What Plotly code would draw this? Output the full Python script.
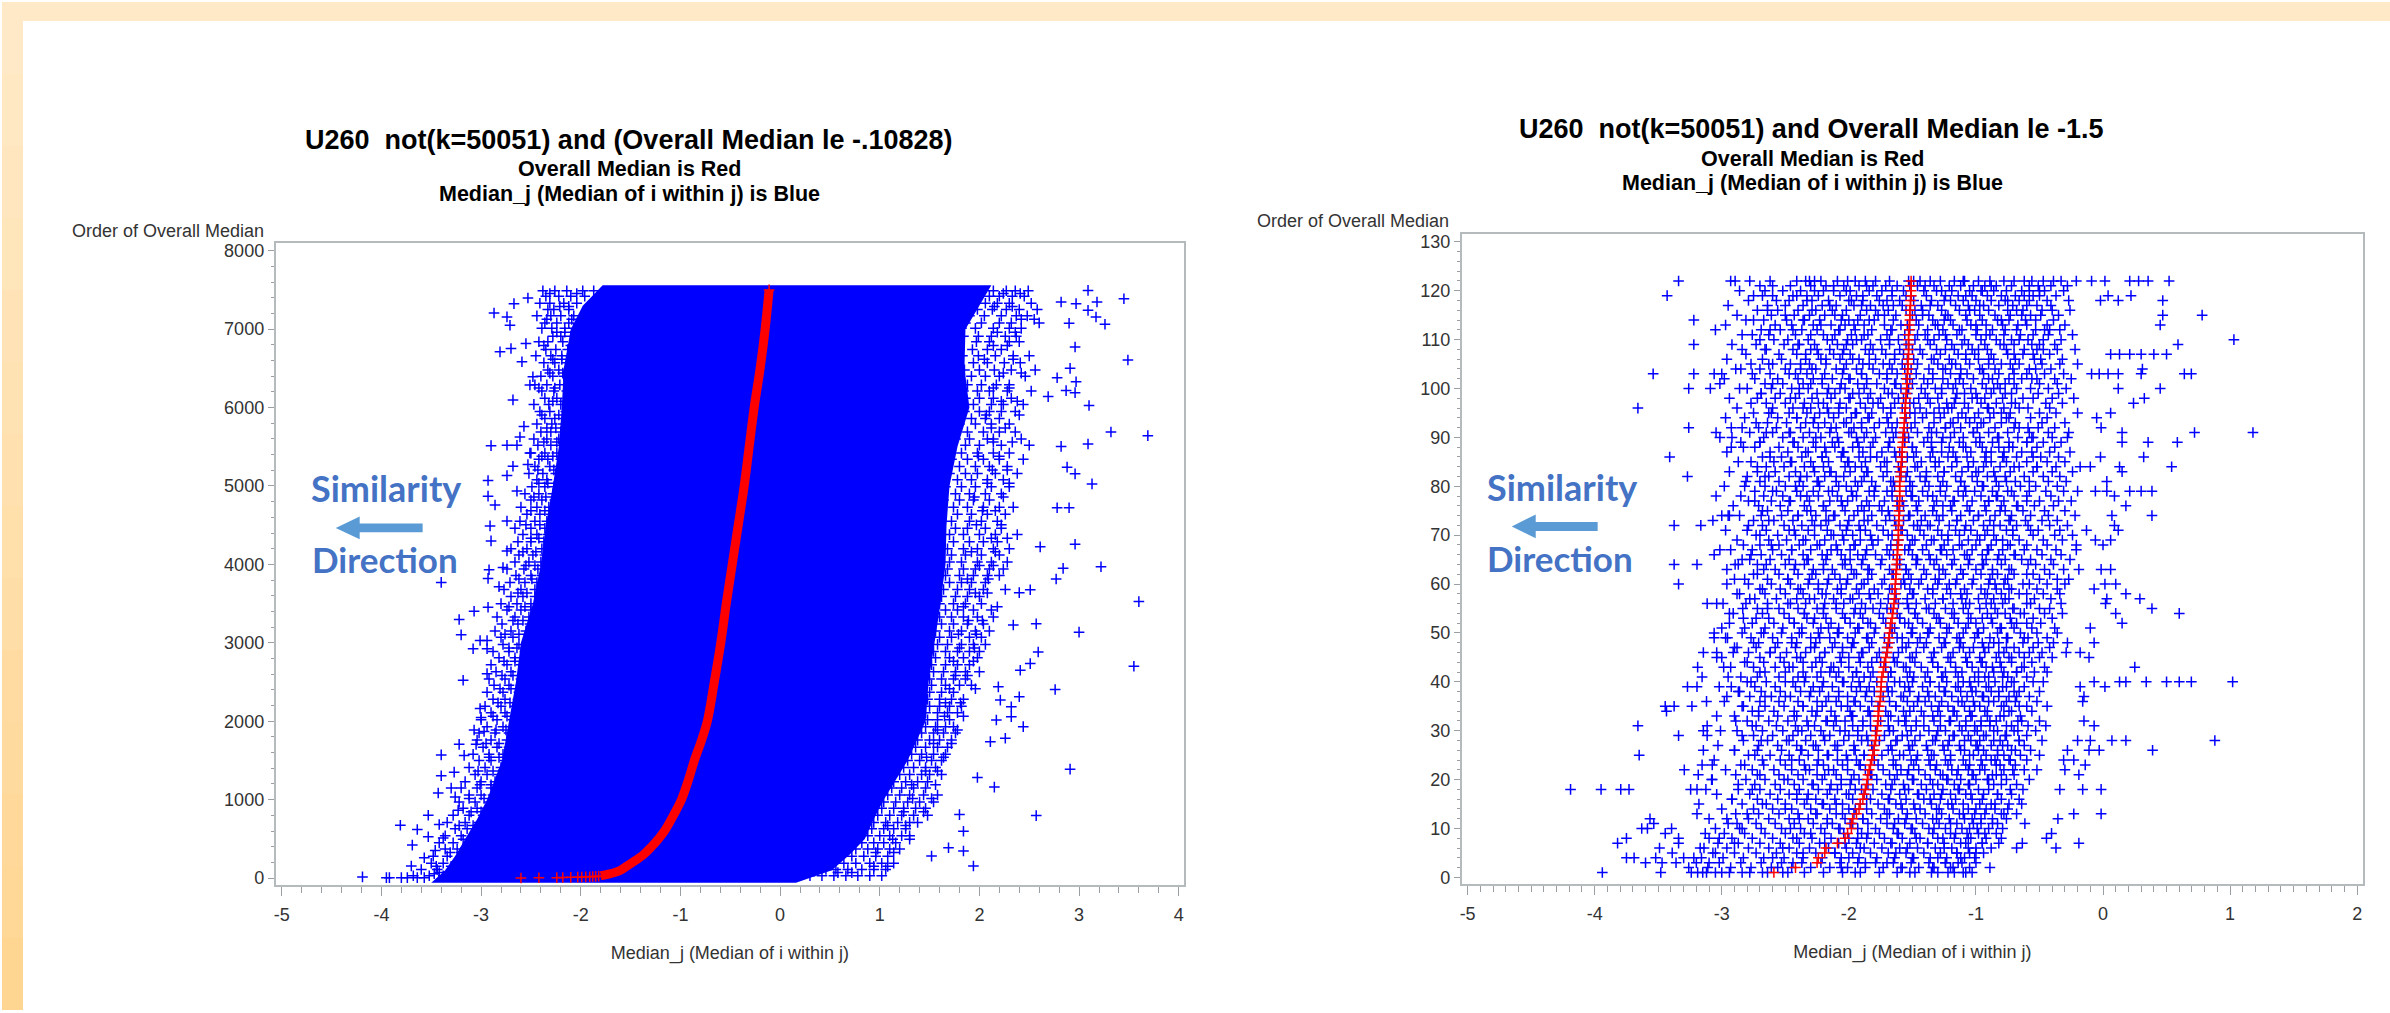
import plotly.graph_objects as go

W, H = 2390, 1013
BLUE, RED = "#0000FF", "#FF0000"

# ---------- LEFT CHART DATA ----------
solid_y = [7560, 7300, 7000, 6500, 6000, 5500, 5000, 4500, 4000, 3500, 3000, 2500, 2000, 1500, 1000, 750, 500, 300, 100, -60]
solid_left = [-1.78, -1.98, -2.1, -2.17, -2.19, -2.22, -2.28, -2.35, -2.4, -2.48, -2.6, -2.65, -2.72, -2.79, -2.94, -3.04, -3.16, -3.25, -3.36, -3.5]
solid_right = [2.12, 2.0, 1.86, 1.85, 1.9, 1.78, 1.7, 1.67, 1.66, 1.61, 1.55, 1.49, 1.46, 1.28, 1.04, 0.94, 0.85, 0.7, 0.52, 0.16]

red_line_y = [30, 50, 100, 150, 200, 300, 400, 500, 600, 800, 1000, 1250, 1500, 1750, 2000, 2500, 3000, 3500, 4000, 4500, 5000, 5500, 6000, 6500, 7000, 7500]
red_line_x = [-1.8, -1.72, -1.6, -1.54, -1.48, -1.37, -1.29, -1.22, -1.16, -1.07, -0.99, -0.92, -0.86, -0.79, -0.73, -0.66, -0.595, -0.54, -0.48, -0.42, -0.36, -0.31, -0.26, -0.2, -0.15, -0.11]
red_low_x = [-2.6, -2.42, -2.24, -2.18, -2.1, -2.03, -1.99, -1.95, -1.91, -1.88, -1.85, -1.82]
red_low_y = [2, 4, 6, 8, 10, 12, 14, 16, 18, 20, 22, 25]

fringe_y = [7490, 7420, 7330, 7250, 7170, 7080, 7010, 6910, 6840, 6740, 6660, 6570, 6480, 6400, 6290, 6210, 6120, 6040, 5950, 5860, 5790, 5690, 5600, 5520, 5420, 5340, 5250, 5160, 5080, 4990, 4900, 4820, 4730, 4640, 4550, 4460, 4380, 4290, 4200, 4120, 4030, 3940, 3860, 3770, 3680, 3590, 3500, 3420, 3330, 3240, 3150, 3070, 2980, 2890, 2810, 2720, 2630, 2540, 2460, 2370, 2280, 2190, 2110, 2020, 1930, 1850, 1760, 1670, 1580, 1500, 1410, 1320, 1230, 1150, 1060, 970, 890, 800, 710, 630, 540, 450, 370, 280, 190, 110, 30]
fringe_left = [
[-2.38,-2.26,-2.14,-1.98,-1.87],[-2.35,-2.22,-2.1,-1.96],[-2.41,-2.31,-2.17,-2.04],[-2.33,-2.27,-2.12],[-2.44,-2.3,-2.2,-2.07],[-2.36,-2.24,-2.12],[-2.39,-2.29,-2.16,-2.07],[-2.28,-2.2,-2.1],[-2.42,-2.33,-2.18],[-2.35,-2.25,-2.13],
[-2.45,-2.3,-2.19,-2.1],[-2.37,-2.26,-2.14],[-2.33,-2.22,-2.11],[-2.4,-2.28,-2.17],[-2.46,-2.34,-2.21,-2.12],[-2.39,-2.27,-2.14],[-2.36,-2.24,-2.13],[-2.47,-2.32,-2.2],[-2.41,-2.31,-2.15],[-2.36,-2.26,-2.16],
[-2.44,-2.29,-2.18],[-2.4,-2.3,-2.2],[-2.47,-2.34,-2.22],[-2.43,-2.3,-2.2],[-2.5,-2.36,-2.24],[-2.42,-2.33,-2.2],[-2.46,-2.31,-2.23],[-2.52,-2.38,-2.25],[-2.44,-2.34,-2.2],[-2.49,-2.36,-2.27],
[-2.56,-2.42,-2.28],[-2.5,-2.39,-2.26],[-2.6,-2.44,-2.32],[-2.54,-2.41,-2.3],[-2.61,-2.46,-2.34],[-2.66,-2.5,-2.36],[-2.58,-2.44,-2.33],[-2.63,-2.5,-2.37],[-2.7,-2.54,-2.39],[-2.62,-2.48,-2.36],
[-2.66,-2.52,-2.4],[-2.74,-2.57,-2.43],[-2.65,-2.5,-2.39],[-2.71,-2.56,-2.44],[-2.77,-2.6,-2.46],[-2.7,-2.58,-2.46],[-2.8,-2.64,-2.5],[-2.74,-2.6,-2.5],[-2.84,-2.66,-2.52],[-2.79,-2.63,-2.51],
[-2.86,-2.7,-2.55],[-2.8,-2.68,-2.52],[-2.78,-2.62,-2.54],[-2.88,-2.72,-2.56],[-2.82,-2.66,-2.55],[-2.9,-2.74,-2.6],[-2.85,-2.7,-2.57],[-2.92,-2.76,-2.6],[-2.87,-2.72,-2.6],[-2.94,-2.78,-2.62],
[-2.88,-2.76,-2.63],[-2.96,-2.8,-2.66],[-2.9,-2.76,-2.64],[-3.0,-2.84,-2.68],[-2.94,-2.78,-2.67],[-3.02,-2.86,-2.72],[-3.04,-2.9,-2.74],[-2.98,-2.84,-2.72],[-3.08,-2.92,-2.78],[-3.02,-2.9,-2.76],
[-3.12,-2.96,-2.8],[-3.06,-2.94,-2.82],[-3.16,-3.0,-2.86],[-3.2,-3.04,-2.9],[-3.12,-3.0,-2.88],[-3.22,-3.06,-2.92],[-3.18,-3.04,-2.94],[-3.28,-3.12,-2.98],[-3.34,-3.16,-3.02],[-3.26,-3.14,-3.04],
[-3.36,-3.2,-3.08],[-3.42,-3.28,-3.12],[-3.36,-3.24,-3.14],[-3.48,-3.34,-3.2],[-3.5,-3.38,-3.26],[-3.6,-3.44,-3.3],[-3.68,-3.52,-3.38,-3.28],
]
fringe_right = [
[2.14,2.27,2.36,2.49],[2.1,2.2,2.33,2.45],[2.06,2.18,2.3,2.52],[1.98,2.13,2.27,2.4,2.58],[1.9,2.05,2.22,2.37,2.48],[1.86,2.02,2.2,2.32,2.6],[1.82,1.96,2.14,2.3,2.42],[1.84,1.99,2.12,2.26,2.37],[1.8,1.97,2.1,2.3,2.4],[1.8,1.93,2.08,2.22],
[1.83,1.99,2.16,2.34,2.5],[1.79,1.94,2.08,2.25,2.41],[1.85,2.0,2.15,2.32,2.56],[1.8,1.92,2.06,2.2,2.46],[1.88,2.02,2.17,2.3],[1.84,1.98,2.1,2.28,2.52],[1.86,2.0,2.14,2.32],[1.83,1.94,2.12,2.24,2.44],[1.85,2.0,2.1,2.22,2.36],[1.76,1.92,2.06,2.2],
[1.8,1.96,2.12,2.3],[1.72,1.88,2.04,2.2,2.36],[1.76,1.9,2.08,2.14,2.42],[1.7,1.86,2.0,2.22,2.5],[1.66,1.82,1.98,2.14,2.3],[1.72,1.88,2.04,2.2,2.44],[1.64,1.8,1.96,2.1,2.28],[1.7,1.86,1.98,2.16,2.38],[1.62,1.78,1.92,2.08,2.24],[1.66,1.82,1.96,2.12,2.3],
[1.6,1.76,1.9,2.06,2.22],[1.64,1.8,1.94,2.1],[1.58,1.74,1.88,2.04,2.2,2.34],[1.62,1.78,1.92,2.08,2.26],[1.57,1.72,1.9,2.02,2.18],[1.6,1.76,1.88,2.06,2.22],[1.56,1.7,1.84,2.0,2.16,2.38],[1.58,1.74,1.9,2.04,2.18],[1.55,1.68,1.84,1.98,2.14,2.3],[1.58,1.72,1.86,2.02,2.2],
[1.55,1.7,1.82,1.98,2.12,2.28],[1.56,1.68,1.84,1.96,2.1,2.24],[1.52,1.66,1.8,1.94,2.08,2.2],[1.54,1.7,1.82,1.92,2.06],[1.5,1.64,1.78,1.9,2.04,2.26],[1.5,1.62,1.76,1.88,2.0],[1.48,1.6,1.74,1.86,2.02],[1.52,1.66,1.78,1.94,2.12],[1.46,1.6,1.72,1.84,1.98,2.14],[1.48,1.62,1.74,1.88,2.04],
[1.44,1.56,1.7,1.82,1.96,2.1],[1.46,1.6,1.72,1.9,2.02],[1.44,1.58,1.68,1.82,1.94,2.06],[1.42,1.54,1.66,1.78,1.9,2.0],[1.44,1.56,1.7,1.84,1.98],[1.4,1.52,1.66,1.78,1.9],[1.4,1.54,1.64,1.76,1.86,2.0],[1.38,1.5,1.62,1.74,1.86],[1.4,1.52,1.66,1.8,1.92],[1.38,1.5,1.62,1.74],
[1.38,1.48,1.6,1.72,1.84],[1.36,1.5,1.6,1.7,1.82],[1.36,1.46,1.58,1.68,1.78],[1.36,1.48,1.58,1.7],[1.34,1.46,1.56,1.66,1.74],[1.3,1.42,1.54,1.64,1.76],[1.26,1.38,1.5,1.6,1.72],[1.24,1.36,1.46,1.58,1.68],[1.2,1.32,1.42,1.54,1.66],[1.16,1.28,1.4,1.52,1.62],
[1.12,1.24,1.34,1.46,1.56],[1.08,1.2,1.3,1.42,1.5,1.62],[1.04,1.14,1.26,1.38,1.48],[1.0,1.12,1.22,1.34,1.46],[0.96,1.08,1.2,1.3,1.44,1.58],[0.94,1.04,1.16,1.28,1.4,1.54],[0.9,1.02,1.14,1.24,1.36,1.46],[0.86,0.98,1.1,1.22,1.34,1.48],[0.84,0.94,1.06,1.18,1.3,1.38],[0.8,0.92,1.04,1.14,1.26],
[0.76,0.88,1.0,1.1,1.22,1.3],[0.7,0.82,0.94,1.04,1.16],[0.66,0.76,0.88,0.98,1.1,1.2],[0.6,0.72,0.84,0.96,1.08],[0.52,0.64,0.76,0.9,1.02,1.14],[0.46,0.56,0.68,0.82,0.94,1.06],[0.3,0.42,0.54,0.66,0.78,0.9,1.02],
]
fringe2_y = [7455, 7290, 7125, 6960, 6790, 6615, 6440, 6250, 6080, 5905, 5740, 5560, 5380, 5205, 5035, 4860, 4685, 4505, 4335, 4160, 3985, 3815, 3635, 3460, 3285, 3110, 2935, 2765, 2585, 2415, 2235, 2065, 1890, 1715, 1540, 1365, 1190, 1015, 845, 670, 495, 325, 150, 70]
fringe2_left = [-2.31,-2.21,-2.34,-2.24,-2.37,-2.19,-2.31,-2.42,-2.28,-2.39,-2.25,-2.37,-2.28,-2.43,-2.33,-2.47,-2.36,-2.55,-2.42,-2.58,-2.46,-2.62,-2.54,-2.72,-2.58,-2.76,-2.64,-2.77,-2.68,-2.81,-2.71,-2.88,-2.75,-2.95,-2.82,-3.03,-2.9,-3.12,-3.0,-3.22,-3.18,-3.31,-3.45,-3.42]
fringe2_mid_left = [-2.04,-2.12,-2.09,-2.16,-2.1,-2.28,-2.18,-2.26,-2.17,-2.22,-2.34,-2.24,-2.39,-2.27,-2.42,-2.35,-2.5,-2.41,-2.5,-2.45,-2.55,-2.49,-2.63,-2.56,-2.68,-2.62,-2.72,-2.66,-2.79,-2.7,-2.83,-2.74,-2.85,-2.82,-2.92,-2.88,-3.01,-2.97,-3.1,-3.08,-3.06,-3.2,-3.3,-3.3]
fringe2_right = [2.24,2.15,2.42,2.18,2.28,2.05,2.24,2.14,2.38,2.07,2.26,2.14,1.99,2.28,2.08,1.95,2.16,1.97,2.12,1.92,2.14,1.88,2.08,1.84,2.03,1.79,1.95,1.74,1.88,1.7,1.81,1.65,1.78,1.54,1.64,1.46,1.56,1.33,1.44,1.26,1.13,1.14,0.94,0.72]
fringe2_far_right = [2.41,2.33,2.55,2.36,2.14,2.34,2.42,2.3,2.22,2.4,2.12,2.33,2.2,2.13,2.3,2.24,2.03,2.22,2.28,2.16,2.0,2.09,1.96,2.18,1.89,1.97,1.8,1.94,1.76,1.96,1.66,1.84,1.58,1.72,1.47,1.58,1.32,1.52,1.24,1.08,1.3,0.96,1.08,0.58]

outlier_left_x = [-2.87,-2.67,-2.53,-2.74,-2.71,-2.81,-2.7,-2.55,-2.59,-2.48,-2.51,-2.68,-2.57,-2.9,-2.74,-2.64,-2.61,-2.51,-2.68,-2.53,-2.74,-2.93,-2.64,-2.93,-2.86,-2.74,-2.91,-2.9,-2.74,-2.92,-2.78,-2.93,-3.4,-2.82,-2.93,-3.07,-3.22,-3.2,-3.01,-2.94,-3.08,-2.94,-2.94,-3.18,-3.01,-3.0,-3.07,-2.97,-3.22,-3.05,-3.4,-3.17,-3.27,-3.4,-3.3,-3.43,-3.26,-3.23,-3.53,-3.81,-3.42,-3.64,-3.53,-3.38,-3.69,-3.46,-3.57,-3.7,-4.19,-3.95,-3.92,-3.8,-3.74,-3.64,-3.57,-3.47]
outlier_left_y = [7206,7325,7397,7156,7050,6711,6753,6816,6584,6393,6288,6098,5760,5514,5520,5520,5625,5421,5252,5273,5133,5070,4935,4870,4757,4554,4491,4300,4172,3932,3960,3822,3771,3716,3454,3403,3297,3102,3030,3030,2924,2924,2607,2523,2163,2049,1888,1870,1706,1706,1571,1565,1351,1305,1148,1085,1035,865,801,674,683,620,527,510,421,353,260,154,15,6,6,6,6,6,6,57]
outlier_right_x = [3.09,3.45,3.18,2.82,2.97,3.09,3.17,3.26,2.9,2.96,3.49,2.91,2.78,2.97,2.87,2.96,3.1,2.69,3.32,3.69,3.09,2.82,2.88,2.96,3.13,2.78,2.9,2.96,2.61,3.22,2.84,2.77,2.51,3.6,2.4,3.0,2.57,2.34,2.59,3.55,2.51,2.41,2.76,2.19,2.4,2.21,2.32,2.32,2.17,2.44,2.26,2.11,2.91,1.98,2.15,2.57,1.8,1.84,1.84,1.69,1.94,1.52]
outlier_right_y = [7494,7388,7346,7346,7325,7240,7155,7062,7075,6773,6606,6500,6380,6330,6217,6190,6026,6140,5688,5642,5536,5505,5240,5155,5027,4723,4723,4257,4224,3970,3950,3814,3677,3526,3640,3136,3242,3228,2883,2701,2735,2650,2405,2439,2312,2270,2185,2058,2016,1931,1783,1740,1389,1283,1161,797,810,598,345,387,155,281]

# ---------- RIGHT CHART DATA ----------
right_red_y = list(range(1, 123))
right_red_x = [-2.59,-2.42,-2.25,-2.24,-2.19,-2.18,-2.09,-2.03,-2.01,-1.98,-1.98,-1.97,-1.94,-1.92,-1.91,-1.89,-1.88,-1.87,-1.86,-1.855,-1.85,-1.84,-1.83,-1.82,-1.81,-1.8,-1.8,-1.79,-1.785,-1.78,-1.775,-1.77,-1.77,-1.765,-1.76,-1.755,-1.75,-1.75,-1.745,-1.745,-1.74,-1.73,-1.725,-1.72,-1.71,-1.7,-1.695,-1.69,-1.685,-1.68,-1.675,-1.67,-1.66,-1.655,-1.65,-1.645,-1.64,-1.64,-1.635,-1.635,-1.63,-1.63,-1.625,-1.625,-1.62,-1.62,-1.615,-1.615,-1.61,-1.61,-1.61,-1.61,-1.605,-1.605,-1.605,-1.605,-1.6,-1.6,-1.6,-1.6,-1.6,-1.595,-1.59,-1.59,-1.585,-1.585,-1.58,-1.58,-1.575,-1.575,-1.57,-1.565,-1.565,-1.56,-1.56,-1.555,-1.555,-1.55,-1.55,-1.545,-1.54,-1.54,-1.54,-1.535,-1.535,-1.535,-1.53,-1.53,-1.53,-1.53,-1.53,-1.525,-1.525,-1.52,-1.52,-1.52,-1.515,-1.515,-1.51,-1.51,-1.51,-1.51]

sparse_x = [0.52,0.355,0.28,0.21,0.015,-0.09,-0.21,-0.39,0.22,0.12,0.04,-0.02,0.47,0.47,0.78,0.45,1.03,0.59,0.5,0.4,0.3,0.21,0.13,0.06,0.695,0.64,0.31,0.3,0.12,0.04,-0.03,-0.09,0.45,0.12,0.325,0.24,0.06,-0.05,-0.015,1.18,0.72,0.15,0.585,0.355,0.15,0.32,-0.02,0.54,0.13,0.15,-0.1,-0.18,0.03,0.385,0.3,0.21,0.03,-0.06,0.09,0.18,0.385,0.07,0.09,0.12,-0.13,0.06,-0.06,-0.21,0.0,
0.06,-0.015,0.1,0.015,-0.07,0.18,0.29,0.03,0.02,0.385,0.6,0.1,0.15,-0.1,-0.07,-0.28,-0.39,-0.18,-0.29,-0.11,0.25,1.02,0.695,0.6,0.5,0.34,0.18,0.13,0.015,-0.07,-0.18,-0.15,-0.16,0.88,0.18,0.07,-0.1,-0.2,0.39,-0.03,-0.11,-0.28,-0.07,-0.15,-0.23,-0.31,-0.14,-0.3,-0.19,-0.015,-0.16,-0.34,-0.015,-0.23,-0.355,-0.615,-0.405,-0.445,-0.19,-0.635,-0.37,-0.68]
sparse_y = [122,122,122,122,122,122,122,122,119,118,119,118,118,115,115,113,110,109,107,107,107,107,107,107,103,103,104,103,103,103,103,103,100,100,98,97,95,94,92,91,91,91,89,89,89,86,86,84,84,83,84,84,81,79,79,79,79,79,78,76,74,74,72,71,71,69,69,68,68,
63,63,60,60,59,58,57,57,56,55,54,54,52,51,48,48,48,46,46,45,43,40,40,40,40,40,40,40,39,40,39,37,36,28,28,28,28,28,26,26,26,26,31,32,24,24,23,22,21,18,18,18,13,13,12,11,9,8,7,7,6,6]
sparse_left_x = [-3.34,-2.895,-3.43,-3.22,-3.05,-3.22,-3.54,-3.22,-3.06,-3.0,-3.26,-3.09,-3.015,-3.66,-3.26,-3.045,-3.015,-2.925,-3.41,-2.925,-3.27,-3.045,-3.375,-3.165,-3.07,-3.0,-2.94,
-3.375,-3.195,-3.06,-3.015,-3.34,-2.895,-3.115,-3.04,-2.94,-2.835,-3.0,-3.06,-3.06,-2.955,-3.145,-3.04,-2.91,-3.04,-3.19,-2.985,-3.155,-3.27,-3.195,-2.925,-3.12,-2.96,-3.445,-3.375,-3.235,-3.435,-3.66,-3.34,-3.115,-3.145,-3.115,-3.145,-3.65,-3.295,-3.155,-3.075,-3.185,-3.075,-4.19,-3.95,-3.795,-3.73,-3.245,-3.195,-3.125,-3.18,-3.195,-3.565,-3.535,-3.63,-3.585,-3.395,-3.445,-3.75,-3.34,-3.82,-3.34,-3.49,-3.39,-3.75,-3.69,-3.52,-3.3,-3.6,-3.47,-3.36,-3.94,-3.48,-3.24,-3.15,-3.05,-2.94,-2.78]
sparse_left_y = [122,122,119,114,112,109,103,103,103,103,100,100,101,96,92,91,90,92,86,88,82,78,72,72,73,74,74,
64,64,66,67,60,64,56,56,54,55,51,50,49,49,46,46,46,45,43,43,41,39,39,39,36,37,35,35,35,34,31,29,31,30,29,26,25,22,23,23,21,20,18,18,18,18,18,18,18,15,13,12,11,10,10,10,9,8,8,7,7,6,5,4,4,4,4,3,3,3,1,1,1,1,1,1,1]

rows_122_101 = [
[-2.78,-2.62,-2.41,-2.34,-2.22,-2.09,-2.01,-1.87,-1.79,-1.68,-1.44,-1.36,-1.28,-1.17,-1.09,-0.98,-0.89,-0.78,-0.7,-0.62],
[-2.7,-2.46,-2.3,-2.18,-2.04,-1.92,-1.81,-1.71,-1.62,-1.46,-1.33,-1.21,-1.12,-1.02,-0.93,-0.84,-0.72,-0.58],
[-2.66,-2.52,-2.38,-2.27,-2.12,-1.99,-1.84,-1.74,-1.57,-1.41,-1.31,-1.19,-1.05,-0.96,-0.86,-0.76,-0.64,-0.5],
[-2.75,-2.6,-2.44,-2.33,-2.24,-2.07,-1.94,-1.78,-1.66,-1.51,-1.39,-1.24,-1.14,-1.03,-0.91,-0.8,-0.69,-0.55],
[-2.57,-2.47,-2.29,-2.16,-2.0,-1.89,-1.76,-1.6,-1.49,-1.35,-1.25,-1.1,-1.0,-0.88,-0.77,-0.66],
[-2.64,-2.5,-2.36,-2.21,-2.1,-1.96,-1.83,-1.73,-1.58,-1.43,-1.3,-1.16,-1.06,-0.94,-0.82,-0.71,-0.6],
[-2.72,-2.56,-2.4,-2.26,-2.13,-2.02,-1.86,-1.69,-1.55,-1.42,-1.27,-1.13,-1.01,-0.9,-0.75,-0.63,-0.48],
[-2.61,-2.43,-2.31,-2.19,-2.05,-1.91,-1.77,-1.63,-1.5,-1.37,-1.22,-1.08,-0.97,-0.85,-0.73,-0.57],
[-2.81,-2.67,-2.49,-2.35,-2.23,-2.06,-1.93,-1.8,-1.65,-1.47,-1.34,-1.2,-1.07,-0.95,-0.83,-0.74,-0.61],
[-2.58,-2.45,-2.28,-2.14,-2.03,-1.88,-1.72,-1.59,-1.45,-1.32,-1.18,-1.04,-0.92,-0.79,-0.67],
[-2.69,-2.54,-2.37,-2.25,-2.08,-1.95,-1.82,-1.67,-1.52,-1.38,-1.26,-1.11,-0.99,-0.87,-0.68,-0.53,-0.42],
[-2.76,-2.63,-2.42,-2.2,-2.11,-1.98,-1.85,-1.7,-1.56,-1.4,-1.29,-1.15,-1.0,-0.89,-0.78,-0.65],
[-2.59,-2.48,-2.32,-2.17,-2.01,-1.9,-1.75,-1.61,-1.48,-1.33,-1.23,-1.09,-0.96,-0.84,-0.72,-0.59],
[-2.73,-2.51,-2.39,-2.27,-2.09,-1.97,-1.83,-1.68,-1.53,-1.36,-1.19,-1.06,-0.93,-0.81,-0.7,-0.56],
[-2.84,-2.65,-2.44,-2.3,-2.15,-2.04,-1.87,-1.74,-1.6,-1.44,-1.31,-1.17,-1.03,-0.91,-0.76,-0.62,-0.47],
[-2.55,-2.41,-2.24,-2.12,-1.99,-1.84,-1.71,-1.57,-1.42,-1.28,-1.14,-1.01,-0.88,-0.75,-0.63],
[-2.68,-2.53,-2.34,-2.22,-2.07,-1.92,-1.79,-1.64,-1.49,-1.35,-1.21,-1.08,-0.98,-0.86,-0.69,-0.54],
[-2.77,-2.6,-2.46,-2.31,-2.18,-2.02,-1.89,-1.73,-1.58,-1.46,-1.3,-1.16,-1.05,-0.9,-0.8,-0.66],
[-2.85,-2.7,-2.5,-2.38,-2.26,-2.1,-1.94,-1.81,-1.66,-1.51,-1.37,-1.24,-1.12,-0.97,-0.85,-0.71,-0.58],
[-2.62,-2.47,-2.33,-2.19,-2.05,-1.9,-1.76,-1.62,-1.47,-1.34,-1.2,-1.07,-0.94,-0.82,-0.6],
[-2.74,-2.56,-2.4,-2.28,-2.13,-2.0,-1.86,-1.7,-1.55,-1.41,-1.26,-1.13,-1.02,-0.87,-0.74,-0.64,-0.52],
[-2.66,-2.52,-2.36,-2.21,-2.06,-1.93,-1.78,-1.63,-1.5,-1.38,-1.22,-1.1,-0.95,-0.83,-0.7],
]
rows_100_81 = [
[-2.8,-2.61,-2.45,-2.32,-2.16,-2.03,-1.88,-1.72,-1.59,-1.43,-1.32,-1.18,-1.04,-0.92,-0.81,-0.68],
[-2.69,-2.54,-2.39,-2.25,-2.11,-1.97,-1.83,-1.69,-1.54,-1.4,-1.27,-1.15,-1.0,-0.88,-0.77],
[-2.72,-2.58,-2.42,-2.29,-2.14,-1.99,-1.85,-1.75,-1.61,-1.45,-1.3,-1.16,-1.03,-0.93,-0.79,-0.63],
[-2.65,-2.5,-2.35,-2.2,-2.07,-1.91,-1.77,-1.64,-1.49,-1.36,-1.23,-1.09,-0.96,-0.84,-0.72],
[-2.6,-2.44,-2.3,-2.17,-2.02,-1.87,-1.73,-1.58,-1.44,-1.29,-1.19,-1.06,-0.91,-0.78,-0.66],
[-2.75,-2.63,-2.47,-2.33,-2.23,-2.08,-1.95,-1.82,-1.67,-1.52,-1.39,-1.25,-1.11,-0.98,-0.86,-0.73],
[-2.82,-2.56,-2.41,-2.27,-2.12,-1.98,-1.84,-1.7,-1.55,-1.42,-1.28,-1.14,-1.01,-0.89,-0.76],
[-2.64,-2.49,-2.34,-2.19,-2.04,-1.9,-1.76,-1.62,-1.48,-1.33,-1.2,-1.05,-0.94,-0.8,-0.69],
[-2.71,-2.57,-2.38,-2.24,-2.1,-1.96,-1.8,-1.66,-1.51,-1.37,-1.24,-1.12,-0.99,-0.85,-0.7,-0.59],
[-2.78,-2.6,-2.46,-2.31,-2.15,-2.0,-1.86,-1.71,-1.57,-1.46,-1.31,-1.17,-1.02,-0.9,-0.75],
[-2.67,-2.52,-2.36,-2.22,-2.09,-1.94,-1.79,-1.65,-1.53,-1.38,-1.26,-1.1,-0.97,-0.83,-0.67,-0.56],
[-2.85,-2.7,-2.43,-2.28,-2.13,-1.93,-1.81,-1.68,-1.56,-1.41,-1.27,-1.13,-1.0,-0.87,-0.74,-0.6],
[-2.74,-2.55,-2.4,-2.26,-2.11,-1.97,-1.83,-1.69,-1.5,-1.35,-1.21,-1.08,-0.95,-0.82,-0.71],
[-2.62,-2.48,-2.32,-2.18,-2.05,-1.89,-1.74,-1.6,-1.47,-1.34,-1.18,-1.04,-0.92,-0.78,-0.64],
[-2.68,-2.53,-2.37,-2.21,-2.06,-1.92,-1.78,-1.63,-1.49,-1.36,-1.22,-1.07,-0.93,-0.79,-0.68,-0.55],
[-2.77,-2.59,-2.45,-2.3,-2.16,-2.01,-1.87,-1.72,-1.58,-1.43,-1.29,-1.15,-1.02,-0.88,-0.76],
[-2.65,-2.51,-2.35,-2.2,-2.03,-1.9,-1.75,-1.61,-1.46,-1.32,-1.19,-1.06,-0.94,-0.81,-0.66,-0.52],
[-2.72,-2.58,-2.42,-2.27,-2.14,-1.99,-1.85,-1.7,-1.54,-1.39,-1.25,-1.11,-0.98,-0.86,-0.73],
[-2.8,-2.63,-2.47,-2.33,-2.19,-2.04,-1.88,-1.73,-1.59,-1.44,-1.3,-1.16,-1.03,-0.91,-0.77,-0.62],
[-2.7,-2.55,-2.39,-2.25,-2.1,-1.95,-1.82,-1.67,-1.52,-1.4,-1.26,-1.12,-0.99,-0.84,-0.69],
]
rows_80_61 = [
[-2.82,-2.66,-2.5,-2.36,-2.23,-2.08,-1.93,-1.79,-1.64,-1.5,-1.37,-1.23,-1.09,-0.95,-0.82,-0.65],
[-2.74,-2.57,-2.41,-2.28,-2.13,-1.98,-1.84,-1.7,-1.55,-1.42,-1.28,-1.14,-1.01,-0.87,-0.75,-0.58],
[-2.67,-2.52,-2.38,-2.24,-2.09,-1.94,-1.8,-1.66,-1.51,-1.38,-1.24,-1.1,-0.96,-0.83,-0.7],
[-2.79,-2.61,-2.46,-2.31,-2.15,-2.01,-1.86,-1.72,-1.58,-1.45,-1.31,-1.17,-1.03,-0.9,-0.78,-0.6],
[-2.71,-2.54,-2.35,-2.2,-2.05,-1.9,-1.76,-1.62,-1.47,-1.33,-1.2,-1.07,-0.93,-0.8,-0.67],
[-2.64,-2.48,-2.33,-2.18,-2.03,-1.88,-1.74,-1.6,-1.46,-1.34,-1.19,-1.05,-0.92,-0.77,-0.63],
[-2.86,-2.69,-2.53,-2.4,-2.26,-2.11,-1.96,-1.82,-1.68,-1.53,-1.4,-1.26,-1.12,-0.98,-0.85,-0.72],
[-2.75,-2.59,-2.44,-2.29,-2.16,-2.0,-1.85,-1.71,-1.57,-1.43,-1.29,-1.15,-1.02,-0.89,-0.74,-0.61],
[-2.68,-2.51,-2.37,-2.22,-2.07,-1.92,-1.78,-1.63,-1.49,-1.36,-1.21,-1.08,-0.94,-0.81,-0.68],
[-2.8,-2.65,-2.47,-2.32,-2.17,-2.02,-1.87,-1.73,-1.59,-1.44,-1.3,-1.16,-1.04,-0.91,-0.76,-0.57],
[-2.73,-2.56,-2.42,-2.27,-2.12,-1.97,-1.83,-1.69,-1.54,-1.41,-1.27,-1.13,-0.99,-0.86,-0.71],
[-2.63,-2.49,-2.34,-2.19,-2.04,-1.91,-1.77,-1.61,-1.48,-1.35,-1.22,-1.06,-0.97,-0.84,-0.66],
[-2.83,-2.7,-2.55,-2.39,-2.25,-2.1,-1.95,-1.81,-1.67,-1.52,-1.39,-1.25,-1.11,-1.0,-0.88,-0.73],
[-2.76,-2.6,-2.45,-2.3,-2.14,-1.99,-1.86,-1.7,-1.56,-1.42,-1.28,-1.18,-1.03,-0.9,-0.79,-0.62],
[-2.69,-2.53,-2.36,-2.21,-2.06,-1.93,-1.79,-1.65,-1.5,-1.37,-1.23,-1.09,-0.95,-0.82,-0.69],
[-2.78,-2.62,-2.47,-2.33,-2.18,-2.03,-1.89,-1.74,-1.6,-1.46,-1.31,-1.17,-1.05,-0.92,-0.77,-0.64],
[-2.87,-2.72,-2.5,-2.35,-2.2,-2.05,-1.9,-1.75,-1.62,-1.47,-1.33,-1.19,-1.06,-0.94,-0.8,-0.59],
[-2.67,-2.58,-2.43,-2.28,-2.13,-1.98,-1.84,-1.68,-1.55,-1.41,-1.26,-1.12,-1.0,-0.87,-0.74],
[-2.75,-2.55,-2.4,-2.26,-2.11,-1.96,-1.82,-1.66,-1.53,-1.39,-1.24,-1.1,-0.96,-0.83,-0.7,-0.55],
[-2.82,-2.64,-2.48,-2.31,-2.16,-2.01,-1.85,-1.72,-1.57,-1.43,-1.29,-1.15,-1.02,-0.89,-0.75],
]
rows_60_41 = [
[-2.79,-2.61,-2.46,-2.32,-2.17,-2.02,-1.88,-1.74,-1.59,-1.45,-1.3,-1.16,-1.03,-0.9,-0.78,-0.63],
[-2.7,-2.54,-2.38,-2.24,-2.09,-1.94,-1.8,-1.66,-1.52,-1.38,-1.23,-1.09,-0.96,-0.84,-0.72],
[-2.86,-2.66,-2.5,-2.36,-2.21,-2.06,-1.92,-1.77,-1.63,-1.49,-1.34,-1.2,-1.07,-0.93,-0.8,-0.66],
[-2.74,-2.57,-2.41,-2.27,-2.12,-1.97,-1.83,-1.69,-1.54,-1.4,-1.26,-1.11,-0.98,-0.86,-0.74],
[-2.81,-2.64,-2.48,-2.34,-2.19,-2.04,-1.9,-1.75,-1.61,-1.47,-1.32,-1.18,-1.05,-0.92,-0.79,-0.6],
[-2.72,-2.55,-2.4,-2.25,-2.1,-1.95,-1.81,-1.67,-1.53,-1.39,-1.24,-1.1,-0.97,-0.85,-0.71],
[-2.68,-2.51,-2.35,-2.2,-2.05,-1.91,-1.76,-1.62,-1.48,-1.33,-1.19,-1.06,-0.91,-0.77,-0.65],
[-2.83,-2.63,-2.47,-2.33,-2.18,-2.03,-1.89,-1.73,-1.6,-1.46,-1.31,-1.17,-1.04,-0.88,-0.73],
[-2.76,-2.59,-2.43,-2.28,-2.14,-1.99,-1.85,-1.71,-1.56,-1.42,-1.28,-1.14,-1.0,-0.87,-0.68],
[-2.66,-2.52,-2.37,-2.22,-2.08,-1.93,-1.79,-1.64,-1.5,-1.36,-1.21,-1.08,-0.94,-0.81,-0.7],
[-2.84,-2.69,-2.53,-2.39,-2.24,-2.09,-1.95,-1.8,-1.66,-1.51,-1.37,-1.23,-1.1,-0.99,-0.83],
[-2.77,-2.6,-2.45,-2.3,-2.15,-2.01,-1.86,-1.72,-1.58,-1.44,-1.29,-1.15,-1.01,-0.89,-0.75,-0.62],
[-2.71,-2.56,-2.41,-2.26,-2.11,-1.96,-1.82,-1.68,-1.53,-1.39,-1.25,-1.12,-0.95,-0.82],
[-2.88,-2.73,-2.58,-2.42,-2.27,-2.13,-1.98,-1.84,-1.7,-1.55,-1.41,-1.27,-1.13,-1.02,-0.9,-0.76],
[-2.79,-2.62,-2.49,-2.34,-2.19,-2.05,-1.9,-1.76,-1.61,-1.47,-1.33,-1.18,-1.05,-0.93,-0.78,-0.58],
[-2.7,-2.54,-2.38,-2.23,-2.07,-1.92,-1.78,-1.65,-1.5,-1.35,-1.22,-1.08,-0.97,-0.84,-0.72],
[-2.82,-2.67,-2.51,-2.36,-2.21,-2.06,-1.91,-1.75,-1.62,-1.48,-1.34,-1.2,-1.07,-0.95,-0.81],
[-2.75,-2.58,-2.44,-2.29,-2.14,-2.0,-1.85,-1.71,-1.57,-1.43,-1.3,-1.16,-1.03,-0.92,-0.8,-0.62],
[-2.66,-2.5,-2.36,-2.22,-2.08,-1.94,-1.81,-1.67,-1.52,-1.38,-1.24,-1.11,-0.98,-0.86,-0.68],
[-2.85,-2.72,-2.55,-2.4,-2.25,-2.1,-1.97,-1.83,-1.69,-1.54,-1.4,-1.26,-1.14,-1.01,-0.9,-0.79],
]
rows_40_21 = [
[-2.8,-2.65,-2.5,-2.35,-2.2,-2.05,-1.92,-1.78,-1.64,-1.5,-1.36,-1.23,-1.1,-0.98,-0.85,-0.72],
[-2.74,-2.58,-2.42,-2.28,-2.13,-1.98,-1.84,-1.7,-1.56,-1.42,-1.29,-1.16,-1.04,-0.92,-0.79],
[-2.87,-2.69,-2.54,-2.38,-2.23,-2.08,-1.94,-1.8,-1.66,-1.52,-1.38,-1.25,-1.12,-1.0,-0.88,-0.7],
[-2.78,-2.61,-2.46,-2.31,-2.16,-2.01,-1.87,-1.73,-1.59,-1.45,-1.32,-1.19,-1.07,-0.95,-0.82,-0.68],
[-2.7,-2.55,-2.4,-2.25,-2.1,-1.96,-1.82,-1.68,-1.54,-1.4,-1.27,-1.14,-1.02,-0.9,-0.76],
[-2.84,-2.66,-2.51,-2.36,-2.21,-2.06,-1.91,-1.77,-1.63,-1.49,-1.35,-1.22,-1.09,-0.97,-0.8,-0.66],
[-2.76,-2.59,-2.43,-2.29,-2.14,-1.99,-1.85,-1.71,-1.57,-1.43,-1.3,-1.17,-1.05,-0.93,-0.74],
[-2.9,-2.71,-2.56,-2.41,-2.26,-2.11,-1.97,-1.83,-1.69,-1.55,-1.41,-1.28,-1.15,-1.03,-0.91,-0.78],
[-2.8,-2.63,-2.48,-2.33,-2.18,-2.03,-1.89,-1.75,-1.61,-1.47,-1.33,-1.2,-1.08,-0.96,-0.84,-0.64],
[-2.73,-2.57,-2.42,-2.27,-2.12,-1.97,-1.83,-1.69,-1.55,-1.41,-1.28,-1.13,-1.01,-0.89,-0.72],
[-2.88,-2.68,-2.52,-2.37,-2.22,-2.07,-1.93,-1.79,-1.65,-1.51,-1.37,-1.24,-1.11,-0.99,-0.86,-0.7],
[-2.75,-2.6,-2.44,-2.3,-2.15,-2.0,-1.86,-1.72,-1.58,-1.44,-1.31,-1.18,-1.06,-0.94,-0.77],
[-2.83,-2.64,-2.49,-2.34,-2.19,-2.04,-1.9,-1.76,-1.62,-1.48,-1.34,-1.21,-1.09,-0.97,-0.81,-0.66],
[-2.71,-2.56,-2.41,-2.26,-2.11,-1.96,-1.82,-1.67,-1.53,-1.39,-1.26,-1.13,-1.0,-0.88,-0.75],
[-2.9,-2.72,-2.53,-2.38,-2.24,-2.09,-1.95,-1.81,-1.66,-1.52,-1.38,-1.25,-1.12,-0.98,-0.83,-0.69],
[-2.79,-2.62,-2.47,-2.32,-2.17,-2.02,-1.88,-1.74,-1.6,-1.46,-1.33,-1.2,-1.05,-0.92,-0.78],
[-2.68,-2.54,-2.39,-2.24,-2.09,-1.94,-1.8,-1.65,-1.51,-1.37,-1.24,-1.1,-0.96,-0.85,-0.73],
[-2.85,-2.67,-2.5,-2.35,-2.2,-2.05,-1.91,-1.77,-1.63,-1.49,-1.36,-1.22,-1.08,-0.95,-0.84],
[-2.76,-2.59,-2.45,-2.31,-2.16,-2.01,-1.87,-1.73,-1.59,-1.45,-1.32,-1.19,-1.06,-0.93,-0.71],
[-2.89,-2.7,-2.55,-2.4,-2.25,-2.1,-1.96,-1.82,-1.68,-1.54,-1.4,-1.26,-1.15,-1.02,-0.87,-0.8],
]
rows_20_1 = [
[-2.81,-2.66,-2.51,-2.36,-2.21,-2.06,-1.92,-1.78,-1.64,-1.5,-1.36,-1.23,-1.12,-1.0,-0.9],
[-2.74,-2.58,-2.43,-2.28,-2.14,-1.99,-1.85,-1.71,-1.57,-1.43,-1.3,-1.17,-1.05,-0.86],
[-2.87,-2.7,-2.54,-2.39,-2.24,-2.09,-1.95,-1.81,-1.67,-1.53,-1.39,-1.26,-1.14,-0.98],
[-2.78,-2.62,-2.47,-2.32,-2.17,-2.02,-1.88,-1.74,-1.6,-1.46,-1.33,-1.2,-1.08,-0.94,-0.83],
[-2.92,-2.72,-2.56,-2.41,-2.26,-2.11,-1.97,-1.83,-1.69,-1.55,-1.41,-1.28,-1.16,-1.03],
[-2.84,-2.65,-2.5,-2.35,-2.2,-2.05,-1.91,-1.77,-1.63,-1.49,-1.35,-1.22,-1.1,-0.97,-0.85],
[-2.75,-2.6,-2.45,-2.3,-2.15,-2.0,-1.86,-1.72,-1.58,-1.44,-1.31,-1.18,-1.06,-0.92],
[-2.89,-2.71,-2.55,-2.4,-2.25,-2.1,-1.96,-1.82,-1.68,-1.54,-1.4,-1.27,-1.13,-1.01,-0.8],
[-2.96,-2.79,-2.63,-2.47,-2.32,-2.17,-2.03,-1.89,-1.75,-1.61,-1.47,-1.34,-1.21,-1.09,-0.96],
[-2.88,-2.73,-2.58,-2.43,-2.28,-2.13,-1.99,-1.85,-1.7,-1.56,-1.42,-1.29,-1.15,-1.02,-0.87],
[-3.05,-2.86,-2.69,-2.53,-2.38,-2.22,-2.07,-1.93,-1.79,-1.65,-1.51,-1.37,-1.24,-1.11,-0.99],
[-2.98,-2.82,-2.66,-2.5,-2.35,-2.19,-2.04,-1.9,-1.76,-1.62,-1.48,-1.34,-1.2,-1.07,-0.93],
[-3.1,-2.92,-2.76,-2.6,-2.44,-2.29,-2.14,-2.0,-1.86,-1.72,-1.58,-1.44,-1.3,-1.17,-1.04],
[-3.03,-2.87,-2.7,-2.54,-2.39,-2.23,-2.08,-1.94,-1.8,-1.66,-1.52,-1.38,-1.25,-1.12,-0.95],
[-3.14,-2.96,-2.79,-2.63,-2.47,-2.31,-2.16,-2.02,-1.88,-1.74,-1.6,-1.46,-1.32,-1.19,-1.06],
[-3.07,-2.9,-2.73,-2.57,-2.41,-2.26,-2.11,-1.97,-1.83,-1.69,-1.55,-1.41,-1.28,-1.15,-1.0],
[-3.16,-2.99,-2.83,-2.67,-2.51,-2.36,-2.21,-2.06,-1.92,-1.78,-1.64,-1.5,-1.36,-1.23,-1.09],
[-3.2,-3.02,-2.85,-2.69,-2.53,-2.37,-2.22,-2.07,-1.93,-1.79,-1.65,-1.51,-1.37,-1.24,-1.11],
[-3.11,-2.93,-2.77,-2.61,-2.45,-2.3,-2.15,-2.01,-1.87,-1.73,-1.59,-1.45,-1.33,-1.18,-0.89],
[-3.19,-3.0,-2.84,-2.68,-2.52,-2.35,-2.2,-2.05,-1.91,-1.76,-1.62,-1.48,-1.35,-1.22,-1.1,-1.03],
]
# second pass of irregular marks: one outer-left, central clusters, outer-right
extra_122_91 = [
[-2.93,-2.31,-2.27,-1.95,-1.53,-1.49,-1.1,-0.56,-0.47,-0.33],[-2.6,-2.12,-1.86,-1.52,-1.4,-0.88,-0.51,-0.41,-0.28],[-2.86,-2.2,-2.02,-1.66,-1.27,-0.95,-0.58,-0.46,-0.31],[-2.68,-2.41,-1.89,-1.55,-1.08,-0.62,-0.5,-0.37],[-2.79,-2.33,-1.98,-1.7,-1.2,-0.75,-0.58,-0.44,-0.27],[-2.95,-2.15,-1.9,-1.65,-1.36,-0.97,-0.52,-0.41],[-2.64,-2.29,-1.79,-1.48,-1.05,-0.68,-0.4,-0.26],[-2.88,-2.5,-2.11,-1.72,-1.42,-1.24,-0.64,-0.49,-0.35],
[-2.75,-2.36,-2.0,-1.84,-1.25,-0.8,-0.53,-0.39],[-2.97,-2.22,-1.96,-1.54,-1.3,-1.0,-0.6,-0.44,-0.3],[-2.62,-2.44,-2.07,-1.66,-1.13,-0.77,-0.46,-0.34],[-2.84,-2.3,-1.88,-1.46,-1.24,-0.92,-0.55,-0.43,-0.24],[-2.7,-2.13,-1.94,-1.68,-1.38,-0.66,-0.47,-0.33],[-2.92,-2.4,-2.02,-1.55,-1.11,-0.78,-0.5,-0.38],[-2.66,-2.25,-1.81,-1.5,-1.24,-0.98,-0.52,-0.36,-0.22],[-2.81,-2.34,-2.05,-1.64,-1.08,-0.7,-0.55,-0.42],
[-2.96,-2.18,-1.97,-1.54,-1.33,-0.9,-0.49,-0.32],[-2.63,-2.38,-1.84,-1.68,-1.19,-0.73,-0.48,-0.34,-0.2],[-2.89,-2.29,-2.04,-1.56,-1.26,-0.95,-0.53,-0.41],[-2.76,-2.42,-1.9,-1.7,-1.12,-0.7,-0.46,-0.31],[-2.98,-2.21,-1.99,-1.52,-1.34,-0.9,-0.56,-0.38,-0.25],[-2.6,-2.3,-1.86,-1.64,-1.16,-0.77,-0.5,-0.36],
[-2.86,-2.39,-2.07,-1.53,-1.27,-0.86,-0.57,-0.43,-0.29],[-2.69,-2.17,-1.92,-1.66,-1.09,-0.72,-0.51,-0.35],[-2.94,-2.46,-2.0,-1.57,-1.38,-0.99,-0.55,-0.4,-0.23],[-2.77,-2.24,-1.81,-1.52,-1.17,-0.69,-0.45,-0.32],[-2.88,-2.36,-2.08,-1.67,-1.22,-0.9,-0.59,-0.42],[-2.61,-2.16,-1.94,-1.48,-1.33,-0.8,-0.5,-0.37,-0.2],[-2.97,-2.41,-1.85,-1.56,-1.08,-0.74,-0.57,-0.44],[-2.73,-2.28,-2.02,-1.69,-1.18,-0.96,-0.48,-0.3],[-2.84,-2.14,-1.9,-1.54,-1.24,-0.66,-0.51,-0.38],[-2.65,-2.47,-1.98,-1.63,-1.35,-1.02,-0.58,-0.43,-0.27],
]
extra_90_61 = [
[-2.92,-2.26,-1.88,-1.56,-1.2,-0.82,-0.55,-0.4,-0.28],[-2.7,-2.44,-2.08,-1.68,-1.35,-0.97,-0.6,-0.47,-0.33],[-2.83,-2.19,-1.92,-1.5,-1.1,-0.74,-0.52,-0.38],[-2.96,-2.34,-2.04,-1.64,-1.27,-0.88,-0.56,-0.42,-0.26],[-2.62,-2.21,-1.83,-1.54,-1.16,-0.78,-0.49,-0.35],[-2.87,-2.46,-2.0,-1.7,-1.32,-0.92,-0.6,-0.44,-0.3],[-2.72,-2.28,-1.95,-1.48,-1.06,-0.7,-0.52,-0.37],[-2.94,-2.15,-1.86,-1.6,-1.25,-1.0,-0.55,-0.4,-0.24],[-2.66,-2.38,-2.1,-1.55,-1.39,-0.85,-0.47,-0.34],[-2.81,-2.24,-1.9,-1.65,-1.12,-0.76,-0.58,-0.43,-0.29],
[-2.98,-2.42,-2.02,-1.52,-1.28,-0.94,-0.53,-0.36],[-2.6,-2.16,-1.8,-1.66,-1.08,-0.72,-0.45,-0.31,-0.2],[-2.85,-2.33,-1.97,-1.5,-1.34,-0.84,-0.6,-0.41],[-2.74,-2.47,-2.06,-1.62,-1.18,-0.9,-0.5,-0.35,-0.25],[-2.91,-2.2,-1.84,-1.57,-1.26,-0.68,-0.54,-0.39],[-2.68,-2.3,-1.93,-1.69,-1.05,-0.81,-0.46,-0.3],[-2.95,-2.4,-2.12,-1.52,-1.31,-0.98,-0.57,-0.43,-0.22],[-2.63,-2.18,-1.88,-1.64,-1.15,-0.73,-0.48,-0.36],[-2.79,-2.27,-2.01,-1.46,-1.38,-0.86,-0.59,-0.42,-0.28],[-2.97,-2.43,-1.91,-1.58,-1.09,-0.71,-0.51,-0.34],
[-2.7,-2.14,-2.05,-1.66,-1.22,-0.93,-0.55,-0.38,-0.24],[-2.88,-2.36,-1.82,-1.5,-1.33,-0.79,-0.47,-0.32],[-2.61,-2.23,-1.96,-1.62,-1.13,-0.75,-0.6,-0.44],[-2.93,-2.45,-2.09,-1.53,-1.27,-0.91,-0.52,-0.37,-0.21],[-2.77,-2.17,-1.87,-1.68,-1.07,-0.7,-0.48,-0.33],[-2.84,-2.32,-1.99,-1.47,-1.36,-0.83,-0.57,-0.41,-0.26],[-2.65,-2.42,-2.03,-1.6,-1.19,-0.95,-0.53,-0.39],[-2.96,-2.2,-1.85,-1.55,-1.29,-0.72,-0.46,-0.31,-0.19],[-2.72,-2.29,-1.94,-1.65,-1.1,-0.87,-0.6,-0.42],[-2.9,-2.48,-2.07,-1.51,-1.32,-0.77,-0.5,-0.36,-0.27],
]
extra_60_31 = [
[-2.96,-2.24,-1.9,-1.56,-1.21,-0.85,-0.58,-0.44,-0.3],[-2.68,-2.4,-2.06,-1.68,-1.34,-0.74,-0.52,-0.36],[-2.88,-2.18,-1.84,-1.5,-1.12,-0.91,-0.6,-0.47,-0.34],[-2.78,-2.31,-1.99,-1.63,-1.26,-0.77,-0.54,-0.41],[-2.99,-2.46,-2.1,-1.54,-1.08,-0.88,-0.57,-0.33],[-2.64,-2.2,-1.87,-1.7,-1.37,-0.7,-0.5,-0.42],[-2.91,-2.35,-1.96,-1.48,-1.17,-0.83,-0.62,-0.46,-0.32],[-2.73,-2.27,-2.03,-1.6,-1.29,-0.95,-0.55,-0.4],[-2.94,-2.43,-1.83,-1.53,-1.06,-0.72,-0.6,-0.49],[-2.82,-2.16,-1.92,-1.66,-1.23,-0.8,-0.56,-0.38],
[-2.67,-2.37,-2.08,-1.5,-1.38,-0.98,-0.65,-0.52,-0.36],[-2.97,-2.23,-1.85,-1.62,-1.13,-0.76,-0.59,-0.44],[-2.75,-2.45,-1.97,-1.46,-1.24,-0.86,-0.63,-0.51],[-2.9,-2.3,-2.05,-1.58,-1.1,-0.94,-0.7,-0.55,-0.42],[-2.62,-2.19,-1.89,-1.7,-1.33,-0.82,-0.66,-0.48],[-3.0,-2.41,-2.0,-1.52,-1.2,-0.74,-0.62,-0.5,-0.4],[-2.8,-2.26,-1.82,-1.64,-1.07,-0.96,-0.72,-0.56],[-2.93,-2.47,-2.12,-1.55,-1.3,-0.87,-0.64,-0.46],[-2.7,-2.15,-1.94,-1.67,-1.16,-0.78,-0.68,-0.54,-0.44],[-2.95,-2.34,-1.88,-1.49,-1.27,-0.93,-0.75,-0.6],
[-2.77,-2.44,-2.04,-1.6,-1.36,-1.05,-0.7,-0.55,-0.47],[-3.02,-2.21,-1.91,-1.53,-1.14,-0.9,-0.76,-0.62],[-2.86,-2.3,-1.86,-1.69,-1.24,-1.03,-0.82,-0.66,-0.5],[-2.66,-2.5,-2.08,-1.57,-1.37,-0.94,-0.74,-0.58],[-2.98,-2.18,-1.95,-1.46,-1.11,-0.86,-0.69,-0.52],[-2.83,-2.36,-2.01,-1.63,-1.29,-1.01,-0.78,-0.6,-0.44],[-2.71,-2.25,-1.84,-1.52,-1.18,-0.91,-0.72,-0.56],[-3.04,-2.43,-1.98,-1.67,-1.34,-1.04,-0.81,-0.65],[-2.89,-2.17,-2.1,-1.56,-1.21,-0.89,-0.67,-0.5],[-2.76,-2.32,-1.89,-1.47,-1.08,-0.96,-0.76,-0.59,-0.45],
]
extra_30_1 = [
[-3.01,-2.4,-2.03,-1.68,-1.3,-1.01,-0.83,-0.67,-0.53],[-2.84,-2.2,-1.93,-1.54,-1.17,-0.92,-0.76,-0.6],[-2.69,-2.47,-1.85,-1.63,-1.32,-1.04,-0.86,-0.66,-0.48],[-3.03,-2.28,-2.09,-1.5,-1.22,-0.99,-0.79,-0.62],[-2.9,-2.37,-1.96,-1.69,-1.09,-0.94,-0.72,-0.57],[-2.74,-2.16,-1.88,-1.57,-1.35,-1.02,-0.83,-0.65,-0.5],[-3.06,-2.45,-2.01,-1.47,-1.2,-0.88,-0.74,-0.6],[-2.82,-2.25,-1.92,-1.65,-1.31,-1.05,-0.81,-0.69],[-2.97,-2.34,-2.12,-1.53,-1.14,-0.97,-0.78,-0.62,-0.52],[-2.72,-2.19,-1.83,-1.62,-1.28,-1.03,-0.84,-0.7],
[-3.08,-2.48,-1.98,-1.49,-1.22,-0.91,-0.76,-0.58],[-2.87,-2.29,-2.06,-1.66,-1.34,-1.06,-0.8,-0.68],[-2.76,-2.15,-1.9,-1.56,-1.13,-0.9,-0.73,-0.63],[-3.04,-2.41,-2.0,-1.45,-1.27,-1.04,-0.83,-0.72],[-2.92,-2.33,-1.86,-1.68,-1.36,-0.95,-0.8,-0.66],[-2.68,-2.21,-2.1,-1.59,-1.19,-0.88,-0.74,-0.64],[-3.0,-2.5,-1.95,-1.48,-1.29,-1.0,-0.85,-0.75],[-2.8,-2.26,-2.05,-1.7,-1.1,-0.93,-0.78,-0.68],[-3.1,-2.39,-1.89,-1.55,-1.31,-1.03,-0.87,-0.76],[-2.95,-2.17,-1.97,-1.64,-1.2,-0.96,-0.83],
[-2.84,-2.46,-2.08,-1.5,-1.33,-1.05,-0.9,-0.79],[-3.13,-2.3,-1.85,-1.61,-1.16,-0.98,-0.84],[-3.02,-2.41,-1.93,-1.47,-1.26,-1.06,-0.92,-0.8],[-2.9,-2.19,-2.03,-1.67,-1.38,-1.08,-0.95,-0.82],[-3.17,-2.52,-1.91,-1.54,-1.25,-1.0,-0.88],[-3.05,-2.36,-2.11,-1.63,-1.15,-1.05,-0.94],[-3.22,-2.6,-2.0,-1.49,-1.3,-1.12,-1.01],[-3.1,-2.44,-1.87,-1.7,-1.24,-1.14,-1.0],[-3.26,-2.56,-2.06,-1.58,-1.34,-1.2,-1.05],[-3.12,-2.64,-2.48,-1.95,-1.52,-1.3,-1.17,-1.08],
]

# ---------- TEXT AND TICKS ----------
left_title = "U260  not(k=50051) and (Overall Median le -.10828)"
right_title = "U260  not(k=50051) and Overall Median le -1.5"
sub_title_1 = "Overall Median is Red"
sub_title_2 = "Median_j (Median of i within j) is Blue"
y_title = "Order of Overall Median"
x_title = "Median_j (Median of i within j)"
left_x_ticks = [-5, -4, -3, -2, -1, 0, 1, 2, 3, 4]
right_x_ticks = [-5, -4, -3, -2, -1, 0, 1, 2]
left_y_ticks = [0, 1000, 2000, 3000, 4000, 5000, 6000, 7000, 8000]
right_y_ticks = [0, 10, 20, 30, 40, 50, 60, 70, 80, 90, 100, 110, 120, 130]
strip_colors = ["#FFE9C6", "#FFE8C2", "#FFE6BE", "#FFE5BA", "#FFE3B6", "#FFE2B2", "#FFE0AE", "#FFDFAA", "#FFDDA6", "#FFDBA2", "#FFDA9E", "#FFD89A", "#FFD796", "#FFD592"]


def paper_x(px):
    return px / W


def paper_y(px):
    return 1 - px / H


def plus_marker(color):
    return dict(symbol="cross-thin", size=7.6, color=color, line=dict(color=color, width=1.5))


fig = go.Figure()

# left chart
fig.add_trace(go.Scatter(x=solid_left + solid_right[::-1], y=solid_y + solid_y[::-1], mode="lines", fill="toself",
                         fillcolor=BLUE, line=dict(width=0, color=BLUE), xaxis="x", yaxis="y", hoverinfo="skip"))
lx, ly = [], []
for yv, a, b in zip(fringe_y, fringe_left, fringe_right):
    for v in a + b:
        lx.append(v)
        ly.append(yv)
for vals in (fringe2_left, fringe2_mid_left, fringe2_right, fringe2_far_right):
    lx += vals
    ly += fringe2_y
fig.add_trace(go.Scatter(x=lx + outlier_left_x + outlier_right_x, y=ly + outlier_left_y + outlier_right_y,
                         mode="markers", marker=plus_marker(BLUE), xaxis="x", yaxis="y"))
fig.add_trace(go.Scatter(x=red_line_x, y=red_line_y, mode="lines", line=dict(color=RED, width=9, shape="spline"), xaxis="x", yaxis="y"))
fig.add_trace(go.Scatter(x=red_low_x + red_line_x[-1:], y=red_low_y + red_line_y[-1:], mode="markers", marker=plus_marker(RED), xaxis="x", yaxis="y"))

# right chart
rx, ry = [], []
for first_y, band in ((122, rows_122_101), (100, rows_100_81), (80, rows_80_61), (60, rows_60_41), (40, rows_40_21), (20, rows_20_1),
                      (122, extra_122_91), (90, extra_90_61), (60, extra_60_31), (30, extra_30_1)):
    for i, row in enumerate(band):
        for v in row:
            rx.append(v)
            ry.append(first_y - i)
fig.add_trace(go.Scatter(x=rx + sparse_x + sparse_left_x, y=ry + sparse_y + sparse_left_y, mode="markers",
                         marker=plus_marker(BLUE), xaxis="x2", yaxis="y2"))
fig.add_trace(go.Scatter(x=right_red_x, y=right_red_y, mode="markers", marker=plus_marker(RED), xaxis="x2", yaxis="y2"))

frame = "#B5BABD"
tick = "#9A9FA3"
label = dict(family="Liberation Sans, Arial, sans-serif", size=18, color="#333333")


def xaxis(dom, rng, minor, title_shift, vals):
    return dict(domain=dom, range=rng, tickmode="array", tickvals=vals, ticktext=[str(v) for v in vals],
                ticks="outside", ticklen=9, tickwidth=1, tickcolor=tick,
                minor=dict(dtick=minor, tick0=0, ticks="outside", ticklen=6, tickwidth=1, tickcolor=tick),
                showline=True, mirror=True, linecolor=frame, linewidth=2, showgrid=False, zeroline=False, tickfont=label,
                title=dict(text=x_title, font=label, standoff=title_shift), ticklabelstandoff=3)


def yaxis(dom, rng, vals, minor):
    return dict(domain=dom, range=rng, tickmode="array", tickvals=vals, ticktext=[str(v) for v in vals],
                ticks="outside", ticklen=6, tickwidth=1, tickcolor=tick,
                minor=dict(dtick=minor, tick0=0, ticks="outside", ticklen=3, tickwidth=1, tickcolor=tick),
                showline=True, mirror=True, linecolor=frame, linewidth=2, showgrid=False, zeroline=False, tickfont=label)


shapes = [dict(type="rect", xref="paper", yref="paper", x0=0, x1=1, y0=paper_y(19), y1=1, fillcolor=strip_colors[0], line_width=0, layer="below")]
n = len(strip_colors)
for i, c in enumerate(strip_colors):
    shapes.append(dict(type="rect", xref="paper", yref="paper", x0=0, x1=paper_x(21), y0=paper_y((i + 1) * H / n), y1=paper_y(i * H / n), fillcolor=c, line_width=0, layer="below"))


def arrow(tip, shaft_end, ymid, head_len, head_half, shaft_half):
    pts = [(tip, ymid), (tip + head_len, ymid - head_half), (tip + head_len, ymid - shaft_half), (shaft_end, ymid - shaft_half),
           (shaft_end, ymid + shaft_half), (tip + head_len, ymid + shaft_half), (tip + head_len, ymid + head_half)]
    path = "M " + " L ".join(f"{paper_x(a):.5f},{paper_y(b):.5f}" for a, b in pts) + " Z"
    return dict(type="path", xref="paper", yref="paper", path=path, fillcolor="#5B9BD5", line_width=0, layer="above")


shapes += [arrow(334, 421, 528.5, 24, 11.5, 4.5), arrow(1511, 1597, 527, 24, 12, 4.5)]


def note(text, x, y, family, size, color, bold=False, xanchor="center"):
    return dict(text=f"<b>{text}</b>" if bold else text, x=paper_x(x), y=paper_y(y), xref="paper", yref="paper", xanchor=xanchor, yanchor="middle",
                showarrow=False, font=dict(family=family, size=size, color=color))


arial = "Liberation Sans, Arial, sans-serif"
lato = "Lato, sans-serif"
callout = "#4472C4"
annotations = [
    note(left_title, 628, 139, arial, 27, "#000000", True),
    note(sub_title_1, 628, 168, arial, 21.5, "#000000", True),
    note(sub_title_2, 628, 193, arial, 21.5, "#000000", True),
    note(y_title, 264, 230, arial, 18, "#333333", xanchor="right"),
    note(right_title, 1811, 128, arial, 27, "#000000", True),
    note(sub_title_1, 1812, 158, arial, 21.5, "#000000", True),
    note(sub_title_2, 1812, 182, arial, 21.5, "#000000", True),
    note(y_title, 1450, 220, arial, 18, "#333333", xanchor="right"),
    note("Similarity", 384, 488, lato, 36, callout, True),
    note("Direction", 383, 560, lato, 35, callout, True),
    note("Similarity", 1561, 487, lato, 36, callout, True),
    note("Direction", 1559, 559, lato, 35, callout, True),
]

fig.update_layout(
    width=W, height=H, autosize=False, margin=dict(l=0, r=0, t=0, b=0), showlegend=False,
    paper_bgcolor="#FFFFFF", plot_bgcolor="rgba(0,0,0,0)", shapes=shapes, annotations=annotations,
    xaxis=xaxis([paper_x(274), paper_x(1183)], [-5.06, 4.053], 0.2, 22, left_x_ticks),
    yaxis=dict(yaxis([paper_y(887.7), paper_y(242)], [-92, 8101], left_y_ticks, 200), anchor="x"),
    xaxis2=dict(xaxis([paper_x(1461), paper_x(2363)], [-5.046, 2.046], 0.1, 22, right_x_ticks), anchor="y2"),
    yaxis2=dict(yaxis([paper_y(886.7), paper_y(232.7)], [-1.42, 131.7], right_y_ticks, 2), anchor="x2"),
)

fig.write_html("out.html", config={"displayModeBar": False},
               post_script="document.body.style.margin='0';document.body.style.overflow='hidden';")
